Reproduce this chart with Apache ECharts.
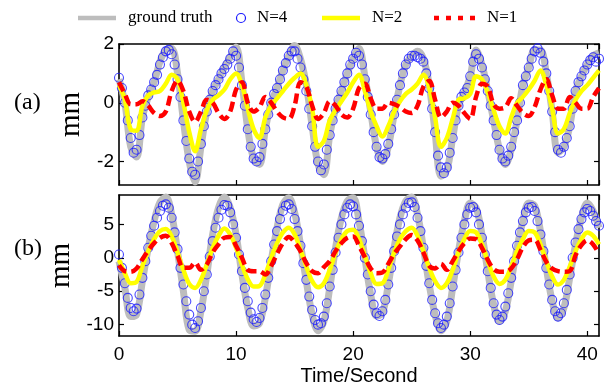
<!DOCTYPE html>
<html><head><meta charset="utf-8">
<script src="https://cdn.jsdelivr.net/npm/echarts@6/dist/echarts.min.js"></script>
<style>html,body{margin:0;padding:0;background:#fff}#c{width:608px;height:391px}</style>
</head><body><div id="c"></div>
<script>
// sampling steps (seconds)
const lineStep = 0.5;
const dotStep = 0.25;
const xTicks = [0, 10, 20, 30, 40];
const yTicksA = [-2, 0, 2];
const yTicksB = [-10, -5, 0, 5];
const seriesNames = ['ground truth', 'N=4', 'N=2', 'N=1'];

// Panel (a)
const truthA = [0.8,0.0,-1.5,-1.85,-0.5,0.2,0.7,1.4,1.8,1.85,
 1.0,-0.6,-2.0,-2.7,-1.5,-0.3,0.4,0.8,1.2,1.55,
 1.9,0.7,-0.9,-1.9,-2.1,-0.9,0.0,0.5,1.1,1.6,
 1.95,1.5,0.6,-0.8,-2.1,-2.45,-1.1,-0.2,0.4,1.0,
 1.5,1.85,0.9,-0.3,-1.5,-2.0,-1.5,-0.4,0.6,1.3,
 1.6,1.75,1.5,0.6,-1.0,-2.5,-2.3,-1.2,-0.1,0.35,
 0.9,1.8,1.3,0.4,-0.6,-1.6,-2.1,-1.6,-0.6,0.6,
 1.2,1.8,1.8,1.0,-0.3,-1.7,-1.5,-0.8,0.4,0.9,
 1.3,1.6,1.7];
const n4A = [0.85,0.5,0.0,-0.6,-1.2,-1.7,-1.6,-1.1,-0.5,-0.1,
 0.25,0.45,0.7,0.95,1.3,1.55,1.75,1.8,1.65,1.3,
 0.8,0.2,-0.6,-1.3,-1.9,-2.35,-2.45,-2.0,-1.4,-0.8,
 -0.3,0.1,0.4,0.6,0.8,1.0,1.15,1.3,1.5,1.75,
 1.6,1.2,0.6,-0.1,-0.9,-1.5,-1.9,-2.0,-1.85,-1.4,
 -0.9,-0.4,0.0,0.3,0.5,0.8,1.1,1.35,1.6,1.75,
 1.75,1.5,1.2,0.8,0.4,-0.2,-0.8,-1.5,-2.0,-2.3,
 -2.1,-1.6,-1.1,-0.6,-0.2,0.1,0.4,0.7,1.0,1.3,
 1.5,1.7,1.6,1.3,0.8,0.2,-0.4,-1.0,-1.5,-1.85,
 -1.9,-1.75,-1.4,-0.9,-0.4,0.1,0.6,1.0,1.3,1.5,
 1.6,1.6,1.55,1.5,1.4,1.0,0.5,-0.2,-1.0,-1.8,
 -2.2,-2.4,-2.2,-1.7,-1.2,-0.6,-0.1,0.2,0.35,0.5,
 0.9,1.4,1.65,1.5,1.2,0.8,0.4,-0.1,-0.6,-1.1,
 -1.6,-1.9,-2.0,-1.8,-1.5,-1.0,-0.6,0.0,0.6,0.9,
 1.2,1.5,1.75,1.85,1.7,1.4,1.0,0.4,-0.3,-1.0,
 -1.6,-1.7,-1.5,-1.2,-0.8,-0.2,0.4,0.7,0.9,1.1,
 1.3,1.45,1.55,1.4,1.5];
const n2A = [0.6,0.1,-0.9,-0.95,-0.1,0.25,0.35,0.4,0.65,0.95,
 0.8,0.0,-1.0,-1.65,-0.9,-0.25,0.1,0.25,0.45,0.8,
 1.0,0.6,-0.2,-0.9,-1.2,-0.5,-0.1,0.15,0.4,0.65,
 0.85,1.0,0.6,-0.2,-1.5,-1.3,-0.6,-0.25,0.05,0.35,
 0.7,0.95,0.4,-0.3,-0.8,-1.15,-0.8,-0.3,0.05,0.3,
 0.45,0.65,0.95,0.5,-0.5,-1.5,-1.2,-0.55,0.1,0.15,
 0.3,0.9,0.8,0.35,-0.25,-0.8,-1.05,-0.5,0.0,0.2,
 0.45,0.75,1.1,0.6,-0.2,-1.05,-0.9,-0.35,0.1,0.4,
 0.6,0.85,1.1];
const n1A = [0.7,0.3,-0.05,-0.05,0.05,-0.1,-0.35,-0.45,-0.3,0.4,
 0.75,0.4,-0.3,-0.65,-0.3,0.1,0.0,-0.35,-0.55,-0.3,
 0.45,0.7,0.0,-0.3,-0.15,0.2,0.0,-0.3,-0.5,-0.55,
 -0.1,0.7,0.55,-0.1,-0.55,-0.35,0.05,-0.1,-0.4,-0.5,
 -0.2,0.5,0.65,0.15,-0.2,-0.2,0.0,-0.05,-0.15,-0.3,
 -0.35,-0.1,0.55,0.75,0.1,-0.5,-0.3,0.0,-0.1,-0.35,
 -0.55,0.2,0.65,0.55,-0.05,-0.2,-0.15,0.15,-0.1,-0.35,
 -0.45,-0.15,0.45,0.8,0.25,-0.2,-0.2,0.2,0.0,-0.2,
 -0.2,0.2,0.5];

// Panel (b)
const truthB = [-0.5,-4.5,-8.8,-8.5,-3.5,1.5,5.5,8.3,9.1,6.5,
 1.0,-5.0,-10.8,-11.0,-8.0,-2.5,3.5,7.5,9.1,7.5,
 3.5,-2.5,-7.5,-10.2,-9.8,-6.0,-0.5,4.5,8.0,9.0,
 6.8,2.0,-3.5,-8.5,-10.9,-9.5,-4.5,1.5,6.0,8.5,
 9.0,5.5,0.0,-5.5,-8.7,-8.3,-4.0,1.5,6.0,8.5,
 9.1,6.5,1.5,-4.0,-8.5,-10.9,-9.5,-4.5,1.0,5.5,
 8.2,7.5,3.5,-2.0,-7.0,-9.5,-8.0,-3.5,1.5,5.5,
 8.2,7.8,4.0,-1.5,-6.5,-9.0,-7.5,-3.0,2.0,6.0,
 8.2,7.0,4.5];
const n4B = [0.5,-1.5,-3.8,-6.0,-7.5,-8.0,-7.6,-5.5,-3.0,-0.5,
 1.5,3.3,4.8,6.0,7.0,7.8,8.0,7.5,6.0,3.8,
 1.3,-1.5,-4.0,-6.5,-8.5,-10.0,-10.5,-9.5,-7.5,-5.0,
 -2.5,0.2,2.5,4.5,6.0,7.2,7.9,7.8,6.8,5.0,
 3.0,0.5,-2.0,-4.5,-6.5,-8.2,-9.2,-9.6,-9.0,-7.5,
 -5.5,-3.0,-0.5,2.0,4.0,5.8,7.0,7.8,8.0,7.3,
 5.8,4.0,1.8,-0.8,-3.3,-5.8,-7.8,-9.3,-10.0,-9.8,
 -8.8,-6.8,-4.3,-1.8,0.8,3.0,5.0,6.5,7.5,8.0,
 7.7,6.5,4.8,2.5,0.0,-2.5,-5.0,-7.0,-8.3,-8.7,
 -8.0,-6.3,-4.0,-1.5,1.0,3.2,5.0,6.5,7.5,8.2,
 8.3,7.6,6.0,4.0,1.5,-1.2,-3.8,-6.3,-8.3,-9.8,
 -10.5,-10.0,-8.8,-6.8,-4.3,-1.8,0.8,3.0,5.0,6.5,
 7.5,7.6,6.8,5.0,3.0,0.5,-2.0,-4.5,-6.8,-8.5,
 -9.3,-8.8,-7.3,-5.3,-3.0,-0.5,1.8,3.8,5.5,6.8,
 7.5,7.6,7.0,5.5,3.5,1.0,-1.5,-4.0,-6.3,-8.0,
 -8.8,-8.3,-6.8,-4.8,-2.5,0.0,2.3,4.3,5.8,6.8,
 7.3,7.0,6.3,5.5,4.8];
const n2B = [-0.3,-2.3,-3.8,-3.6,-1.2,1.0,2.8,4.0,4.3,3.2,
 0.8,-1.8,-3.9,-4.5,-3.3,-1.0,1.5,3.3,4.4,3.5,
 1.5,-1.0,-3.2,-4.3,-4.2,-2.5,0.0,2.2,3.8,4.5,
 3.5,1.2,-1.3,-3.5,-4.4,-3.8,-1.8,0.8,2.8,4.0,
 4.2,2.8,0.3,-2.3,-3.9,-3.8,-1.8,0.8,2.8,4.0,
 4.5,3.3,1.0,-1.5,-3.5,-4.5,-3.8,-1.8,0.8,2.8,
 4.0,3.8,2.0,-0.5,-2.8,-3.9,-3.3,-1.3,1.0,2.8,
 4.0,3.8,2.0,-0.5,-2.8,-4.0,-3.3,-1.3,1.0,2.8,
 3.8,3.3,2.0];
const n1B = [-1.1,-2.0,-2.1,-1.6,-0.2,1.1,2.2,3.0,3.3,2.2,
 0.3,-1.5,-1.5,-0.7,-1.8,-1.0,0.8,2.0,3.0,3.1,
 1.8,0.0,-1.8,-2.0,-2.0,-2.5,-1.2,0.6,2.2,3.1,
 2.3,1.0,-0.8,-2.0,-2.3,-1.4,-0.5,1.0,2.2,3.0,
 3.2,1.8,0.1,-1.6,-2.3,-2.2,-0.9,0.6,1.7,2.8,
 3.4,2.6,0.8,-1.2,-1.6,-0.9,-1.8,-0.5,1.0,2.2,
 2.9,2.8,1.5,-0.3,-1.7,-2.1,-2.1,-1.6,-0.2,1.6,
 2.6,2.7,1.2,-0.6,-1.6,-2.0,-2.1,-2.0,0.4,1.9,
 2.6,2.0,0.6];

const colors = {truth:'#bdbdbd', n4:'#1a1aff', n2:'#ffff00', n1:'#ff0000'};
function pairs(arr, step){ return arr.map((v,i)=>[Math.round(i*step*100)/100, v]); }

const tickFont = {fontFamily:'Liberation Sans', fontSize:19, color:'#000'};
const frame = {show:true, onZero:false, lineStyle:{color:'#000', width:1.6}};
const tick = (vals)=>({show:true, inside:true, length:5, lineStyle:{color:'#000', width:1.2}, customValues: vals});

function xAx(grid, pos, labels){
  return {gridIndex:grid, type:'value', min:0, max:41, interval:10, position:pos,
    axisLine:frame, axisTick:{show:true, inside:true, length:5, lineStyle:{color:'#000', width:1.2}},
    axisLabel: labels ? Object.assign({show:true, margin:9}, tickFont) : {show:false},
    splitLine:{show:false},
    name: labels ? 'Time/Second' : '', nameLocation:'middle', nameGap:30,
    nameTextStyle:{fontFamily:'Liberation Sans', fontSize:20, color:'#000'}};
}
function yAx(grid, pos, min, max, ticks, labels){
  return {gridIndex:grid, type:'value', min:min, max:max, position:pos,
    axisLine:frame, axisTick:tick(ticks),
    axisLabel: labels ? Object.assign({show:true, margin:5, customValues:ticks}, tickFont) : {show:false},
    splitLine:{show:false},
    name: labels ? 'mm' : '', nameLocation:'middle', nameGap:33, nameRotate:90,
    nameTextStyle:{fontFamily:'Liberation Serif', fontSize:29, color:'#000'}};
}

function panelSeries(xi, yi, truth, n4, n2, n1){
  return [
    {type:'line', name:seriesNames[0], xAxisIndex:xi, yAxisIndex:yi, data:pairs(truth, lineStep), smooth:0.35, symbol:'none',
      lineStyle:{color:colors.truth, width:7}, z:1},
    {type:'scatter', name:seriesNames[1], xAxisIndex:xi, yAxisIndex:yi, data:pairs(n4, dotStep), symbol:'circle', symbolSize:9,
      itemStyle:{color:'rgba(0,0,0,0)', borderColor:colors.n4, borderWidth:1.1}, z:2},
    {type:'line', name:seriesNames[2], xAxisIndex:xi, yAxisIndex:yi, data:pairs(n2, lineStep), smooth:0.35, symbol:'none',
      lineStyle:{color:colors.n2, width:4.5}, z:3},
    {type:'line', name:seriesNames[3], xAxisIndex:xi, yAxisIndex:yi, data:pairs(n1, lineStep), smooth:0.35, symbol:'none',
      lineStyle:{color:colors.n1, width:4.5, type:[10,5]}, z:4}
  ];
}

const serif = 'Liberation Serif';
const chart = echarts.init(document.getElementById('c'), null, {renderer:'canvas'});
chart.setOption({
  animation:false,
  backgroundColor:'#fff',
  grid:[
    {left:119, right:9, top:44, height:141},
    {left:119, right:9, top:195, height:141}
  ],
  xAxis:[xAx(0,'bottom',false), xAx(0,'top',false), xAx(1,'bottom',true), xAx(1,'top',false)],
  yAxis:[yAx(0,'left',-2.8,2,yTicksA,true), yAx(0,'right',-2.8,2,yTicksA,false),
         yAx(1,'left',-11.7,9.4,yTicksB,true), yAx(1,'right',-11.7,9.4,yTicksB,false)],
  series: panelSeries(0,0,truthA,n4A,n2A,n1A).concat(panelSeries(2,2,truthB,n4B,n2B,n1B)),
  graphic:[
    {type:'line', shape:{x1:78,y1:18,x2:116,y2:18}, style:{stroke:colors.truth, lineWidth:4.5}},
    {type:'text', x:128, y:18, style:{text:seriesNames[0], font:'17px '+serif, fill:'#000', verticalAlign:'middle'}},
    {type:'circle', shape:{cx:241, cy:18, r:4.5}, style:{stroke:colors.n4, fill:'none', lineWidth:1.2}},
    {type:'text', x:257, y:18, style:{text:seriesNames[1], font:'17px '+serif, fill:'#000', verticalAlign:'middle'}},
    {type:'line', shape:{x1:322,y1:18,x2:360,y2:18}, style:{stroke:colors.n2, lineWidth:4.5}},
    {type:'text', x:372, y:18, style:{text:seriesNames[2], font:'17px '+serif, fill:'#000', verticalAlign:'middle'}},
    {type:'line', shape:{x1:434,y1:18,x2:476,y2:18}, style:{stroke:colors.n1, lineWidth:4.5, lineDash:[5,7]}},
    {type:'text', x:487, y:18, style:{text:seriesNames[3], font:'17px '+serif, fill:'#000', verticalAlign:'middle'}},
    {type:'text', x:14, y:103, style:{text:'(a)', font:'24px '+serif, fill:'#000', verticalAlign:'middle'}},
    {type:'text', x:14, y:249, style:{text:'(b)', font:'24px '+serif, fill:'#000', verticalAlign:'middle'}}
  ]
});
</script></body></html>
